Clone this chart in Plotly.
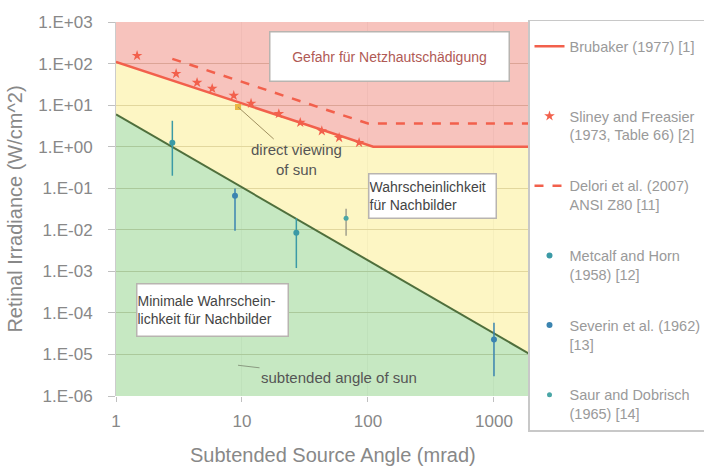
import plotly.graph_objects as go

# ---- boundary curves (subtended angle in mrad, retinal irradiance in W/cm^2) ----
brubaker_x = [1, 110, 2000]
brubaker_y = [110, 1, 1]

delori_x = [2.8, 100, 2000]
delori_y = [130, 3.6, 3.6]

lower_x = [1, 2000]
lower_y = [6.0, 9.5e-6]

# ---- measured data ----
sliney_x = [1.47, 3.0, 4.4, 5.8, 8.6, 11.8, 19.6, 29, 43, 59, 85]
sliney_y = [155, 57, 35, 25, 17, 11, 6.2, 3.8, 2.4, 1.65, 1.25]

metcalf_x = [2.8, 27]
metcalf_y = [1.25, 0.0085]
metcalf_hi = [4.2, 0.019]
metcalf_lo = [0.2, 0.0012]

severin_x = [8.8, 1000]
severin_y = [0.066, 2.3e-5]
severin_hi = [0.098, 5.8e-5]
severin_lo = [0.0095, 3.0e-6]

saur_x = [67]
saur_y = [0.019]
saur_hi = [0.032]
saur_lo = [0.0072]

sun_x = [9.3]
sun_y = [9.0]

y_ticks = [1e3, 1e2, 1e1, 1e0, 1e-1, 1e-2, 1e-3, 1e-4, 1e-5, 1e-6]
y_labels = ["1.E+03", "1.E+02", "1.E+01", "1.E+00", "1.E-01",
            "1.E-02", "1.E-03", "1.E-04", "1.E-05", "1.E-06"]
x_ticks = [1, 10, 100, 1000]
x_labels = ["1", "10", "100", "1000"]

Y_TOP, Y_BOT = 1e4, 1e-7

RED = "#f2604c"
GREEN_LINE = "#4f6f3c"
FONT = "Liberation Sans, Arial, sans-serif"
NB = "\u00a0"


def errs(c, hi, lo):
    return [h - v for v, h in zip(c, hi)], [v - l for v, l in zip(c, lo)]


fig = go.Figure()

# zone fills (translucent so the grid shows through)
fig.add_trace(go.Scatter(
    x=[lower_x[0], lower_x[-1], lower_x[-1], lower_x[0]],
    y=[lower_y[0], lower_y[-1], Y_BOT, Y_BOT],
    fill="toself", fillcolor="rgba(184,226,179,0.8)", line=dict(width=0),
    mode="lines", showlegend=False, hoverinfo="skip"))
fig.add_trace(go.Scatter(
    x=brubaker_x + lower_x[::-1],
    y=brubaker_y + lower_y[::-1],
    fill="toself", fillcolor="rgba(252,244,181,0.8)", line=dict(width=0),
    mode="lines", showlegend=False, hoverinfo="skip"))
fig.add_trace(go.Scatter(
    x=brubaker_x + [brubaker_x[-1], brubaker_x[0]],
    y=brubaker_y + [Y_TOP, Y_TOP],
    fill="toself", fillcolor="rgba(245,180,172,0.8)", line=dict(width=0),
    mode="lines", showlegend=False, hoverinfo="skip"))

# lower boundary
fig.add_trace(go.Scatter(x=lower_x, y=lower_y, mode="lines",
                         line=dict(color=GREEN_LINE, width=2),
                         showlegend=False, hoverinfo="skip"))

# legend entries
fig.add_trace(go.Scatter(x=brubaker_x, y=brubaker_y, mode="lines",
                         name="Brubaker (1977) [1]<br>" + NB, legendgroup="a",
                         line=dict(color=RED, width=2.5)))
fig.add_trace(go.Scatter(x=sliney_x, y=sliney_y, mode="markers",
                         name="Sliney and Freasier<br>(1973, Table 66) [2]",
                         legendgroup="b",
                         marker=dict(symbol="star", size=8, color=RED)))
fig.add_trace(go.Scatter(x=delori_x, y=delori_y, mode="lines",
                         name="Delori et al. (2007)<br>ANSI Z80 [11]",
                         legendgroup="c",
                         line=dict(color=RED, width=2.5, dash="dash")))

em, ep = errs(metcalf_y, metcalf_hi, metcalf_lo)
fig.add_trace(go.Scatter(x=metcalf_x, y=metcalf_y, mode="markers",
                         name="Metcalf and Horn<br>(1958) [12]", legendgroup="d",
                         marker=dict(symbol="circle", size=6, color="#3b9aa6"),
                         error_y=dict(type="data", array=em, arrayminus=ep,
                                      color="#3b9aa6", thickness=1.5, width=0)))
em, ep = errs(severin_y, severin_hi, severin_lo)
fig.add_trace(go.Scatter(x=severin_x, y=severin_y, mode="markers",
                         name="Severin et al. (1962)<br>[13]", legendgroup="e",
                         marker=dict(symbol="circle", size=6, color="#3b84b0"),
                         error_y=dict(type="data", array=em, arrayminus=ep,
                                      color="#3b84b0", thickness=1.5, width=0)))
em, ep = errs(saur_y, saur_hi, saur_lo)
fig.add_trace(go.Scatter(x=saur_x, y=saur_y, mode="markers",
                         name="Saur and Dobrisch<br>(1965) [14]", legendgroup="f",
                         marker=dict(symbol="circle", size=5, color="#4aa6a6"),
                         error_y=dict(type="data", array=em, arrayminus=ep,
                                      color="#8a8a80", thickness=1.2, width=0)))

# sun reference point
fig.add_trace(go.Scatter(x=sun_x, y=sun_y, mode="markers",
                         marker=dict(symbol="square", size=6, color="#e8b844"),
                         showlegend=False, hoverinfo="skip"))


def box(xc, yc, w, h, text, size, color, align="center"):
    return dict(x=xc, y=yc, xref="paper", yref="paper",
                xanchor="center", yanchor="middle",
                text=text, showarrow=False, align=align,
                font=dict(family=FONT, size=size, color=color),
                bgcolor="white", bordercolor="#b8b4b0", borderwidth=1.5,
                borderpad=0, width=w, height=h)


annotations = [
    box(0.663, 0.909, 238, 48, "Gefahr für Netzhautschädigung", 14, "#b05a55"),
    box(0.768, 0.536, 126, 43, "Wahrscheinlichkeit<br>für Nachbilder",
        14, "#444444", align="left"),
    box(0.235, 0.231, 150, 51, "Minimale Wahrschein-<br>lichkeit für Nachbilder",
        14, "#444444", align="left"),
    dict(x=0.9685, y=0.954, xref="x", yref="y",
         text="direct viewing<br>of sun", showarrow=True, arrowhead=0,
         arrowcolor="#a09060", arrowwidth=1, ax=58, ay=52,
         font=dict(family=FONT, size=15, color="#555555")),
    dict(x=0.9685, y=-5.26, xref="x", yref="y",
         text="subtended angle of sun", showarrow=True, arrowhead=0,
         arrowcolor="#8a9a80", arrowwidth=1, ax=101, ay=12,
         font=dict(family=FONT, size=15, color="#555555")),
    # x-axis title
    dict(x=0.5, y=0, xref="paper", yref="paper", xshift=11, yshift=-59,
         xanchor="center", yanchor="middle", showarrow=False,
         text="Subtended Source Angle (mrad)",
         font=dict(family=FONT, size=20, color="#888888")),
]

fig.update_layout(
    width=704, height=466,
    margin=dict(l=116, r=176, t=22, b=70, autoexpand=False),
    paper_bgcolor="white", plot_bgcolor="white",
    font=dict(family=FONT, color="#888888"),
    annotations=annotations,
    legend=dict(x=1.0, y=1.006, xanchor="left", yanchor="top",
                bgcolor="white", bordercolor="#c8c8c8", borderwidth=1.5,
                font=dict(size=14.5, color="#9a9a9a"), valign="top",
                title=dict(text=NB, font=dict(size=7)),
                tracegroupgap=29, itemwidth=30, maxheight=460),
    showlegend=True,
)

fig.update_xaxes(type="log", range=[0, 3.27],
                 tickvals=x_ticks, ticktext=x_labels,
                 tickfont=dict(size=17, color="#888888"),
                 ticks="outside", ticklen=5, tickcolor="#c0c0c0",
                 ticklabelstandoff=5,
                 showgrid=True, gridcolor="rgba(150,150,150,0.35)", gridwidth=1,
                 showline=False, zeroline=False)
fig.update_yaxes(type="log", range=[-6, 3],
                 tickvals=y_ticks, ticktext=y_labels,
                 tickfont=dict(size=17, color="#888888"),
                 ticks="outside", ticklen=7, tickcolor="#c0c0c0",
                 ticklabelstandoff=12,
                 showgrid=True, gridcolor="rgb(120,100,60)", gridwidth=1,
                 showline=True, linecolor="#cccccc", zeroline=False,
                 title=dict(text="Retinal Irradiance (W/cm^2)",
                            font=dict(size=20, color="#888888"), standoff=10))

fig.write_html("out.html")
